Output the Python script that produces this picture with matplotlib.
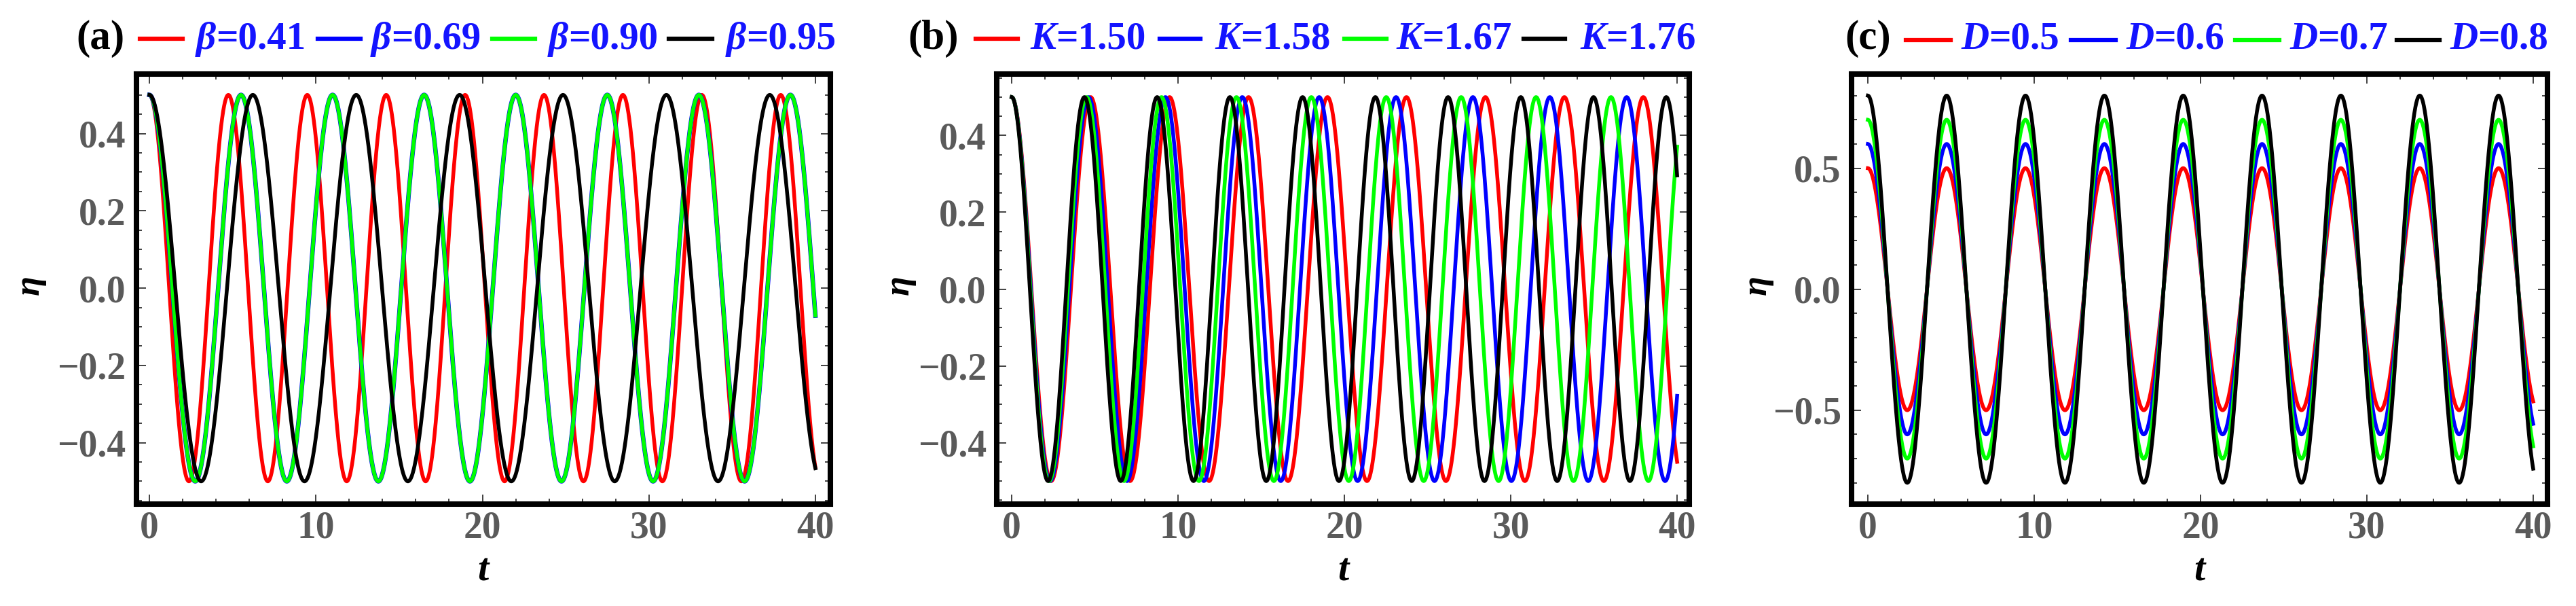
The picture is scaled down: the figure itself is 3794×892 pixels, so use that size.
import numpy as np
import matplotlib
matplotlib.use('Agg')
import matplotlib.pyplot as plt
from matplotlib.lines import Line2D
from matplotlib.ticker import MultipleLocator

plt.rcParams['font.family'] = ['Liberation Serif', 'DejaVu Serif']
plt.rcParams['font.weight'] = 'bold'

# values: each curve is an oscillation starting at its peak,
# kept as (amplitude, period) per curve
colors = ['#ff0000', '#0000ff', '#00ff00', '#000000']

beta_labels = ['0.41', '0.69', '0.90', '0.95']
beta_amps = [0.5, 0.5, 0.5, 0.5]
beta_periods = [4.74, 5.50, 5.50, 6.21]

K_labels = ['1.50', '1.58', '1.67', '1.76']
K_amps = [0.5, 0.5, 0.5, 0.5]
K_periods = [4.746, 4.621, 4.503, 4.372]

D_labels = ['0.5', '0.6', '0.7', '0.8']
D_amps = [0.5, 0.6, 0.7, 0.8]
D_periods = [4.74, 4.74, 4.74, 4.74]

x_ticks = [0, 10, 20, 30, 40]
y_ticks_ab = [-0.4, -0.2, 0.0, 0.2, 0.4]
y_ticks_c = [-0.5, 0.0, 0.5]

t = np.linspace(0, 40, 3000)

W, H = 3794, 892
fig = plt.figure(figsize=(W / 100, H / 100), dpi=100)
renderer = fig.canvas.get_renderer()

label_blue = '#1414ff'
tick_gray = '#5a5a5a'
# blue drawn a bit wider so it peeks out from under green where they coincide
line_widths = [4, 4.8, 4, 4]


def make_axes(left, right, top=109, bottom=742):
    return fig.add_axes([left / W, 1 - bottom / H, (right - left) / W, (bottom - top) / H])


def fmt(v):
    return ('%.1f' % v).replace('-', '\u2212')


def setup(ax, xlim, ylim, yticks, yminor, ylab_x):
    ax.set_xlim(*xlim)
    ax.set_ylim(*ylim)
    ax.set_xticks(x_ticks, [str(v) for v in x_ticks])
    ax.set_yticks(yticks, [fmt(v) for v in yticks])
    ax.xaxis.set_minor_locator(MultipleLocator(2))
    ax.yaxis.set_minor_locator(MultipleLocator(yminor))
    ax.tick_params(which='both', direction='in', top=True, right=True,
                   color='#333333', width=1.3, labelsize=40, labelcolor=tick_gray)
    ax.tick_params(which='major', length=10)
    ax.tick_params(which='minor', length=6)
    ax.tick_params(axis='y', pad=11)
    ax.tick_params(axis='x', pad=7)
    for s in ax.spines.values():
        s.set_linewidth(5.8)
        s.set_color('black')
    ax.text(ylab_x, 0.51, '\u03b7', transform=ax.transAxes, rotation=90,
            ha='center', va='center', style='italic', fontsize=38)
    ax.text(0.5, -0.155, 't', transform=ax.transAxes, ha='center', va='center',
            style='italic', fontsize=42)


def header(tag, tag_x, line_xs, text_xs, letter, labels, line_y=57, base_y=72):
    fig.text(tag_x / W, 1 - base_y / H, tag, fontsize=44, color='black', va='baseline')
    for i in range(4):
        x0, x1 = line_xs[i]
        fig.add_artist(Line2D([x0 / W, x1 / W], [1 - line_y / H, 1 - line_y / H],
                              color=colors[i], lw=4.5, transform=fig.transFigure))
        t1 = fig.text(text_xs[i] / W, 1 - base_y / H, letter, style='italic',
                      fontsize=41, color=label_blue, va='baseline')
        bb = t1.get_window_extent(renderer)
        fig.text(bb.x1 / W, 1 - base_y / H, '=' + labels[i], fontsize=41,
                 color=label_blue, va='baseline')


# (a)
ax1 = make_axes(200.5, 1222.5)
for i in range(4):
    ax1.plot(t, beta_amps[i] * np.cos(2 * np.pi * t / beta_periods[i]),
             color=colors[i], lw=line_widths[i])
setup(ax1, (-0.80, 40.88), (-0.559, 0.554), y_ticks_ab, 0.05, -0.153)
header('(a)', 112, [(206, 269), (468, 531), (725, 788), (985, 1049)],
       [289, 547, 808, 1070], '\u03b2', beta_labels)

# (b)
ax2 = make_axes(1468, 2488)
for i in range(4):
    ax2.plot(t, K_amps[i] * np.cos(2 * np.pi * t / K_periods[i]), color=colors[i], lw=4)
setup(ax2, (-0.90, 40.73), (-0.56, 0.56), y_ticks_ab, 0.05, -0.14)
header('(b)', 1337, [(1437, 1499), (1708, 1768), (1980, 2042), (2244, 2305)],
       [1517, 1789, 2056, 2327], 'K', K_labels)

# (c)
ax3 = make_axes(2727, 3752)
for i in range(4):
    ax3.plot(t, D_amps[i] * np.cos(2 * np.pi * t / D_periods[i]), color=colors[i], lw=4)
setup(ax3, (-0.98, 40.86), (-0.888, 0.889), y_ticks_c, 0.1, -0.136)
header('(c)', 2717, [(2807, 2873), (3050, 3116), (3292, 3357), (3530, 3593)],
       [2888, 3131, 3372, 3608], 'D', D_labels, line_y=59)

fig.savefig('out.png', dpi=100)
